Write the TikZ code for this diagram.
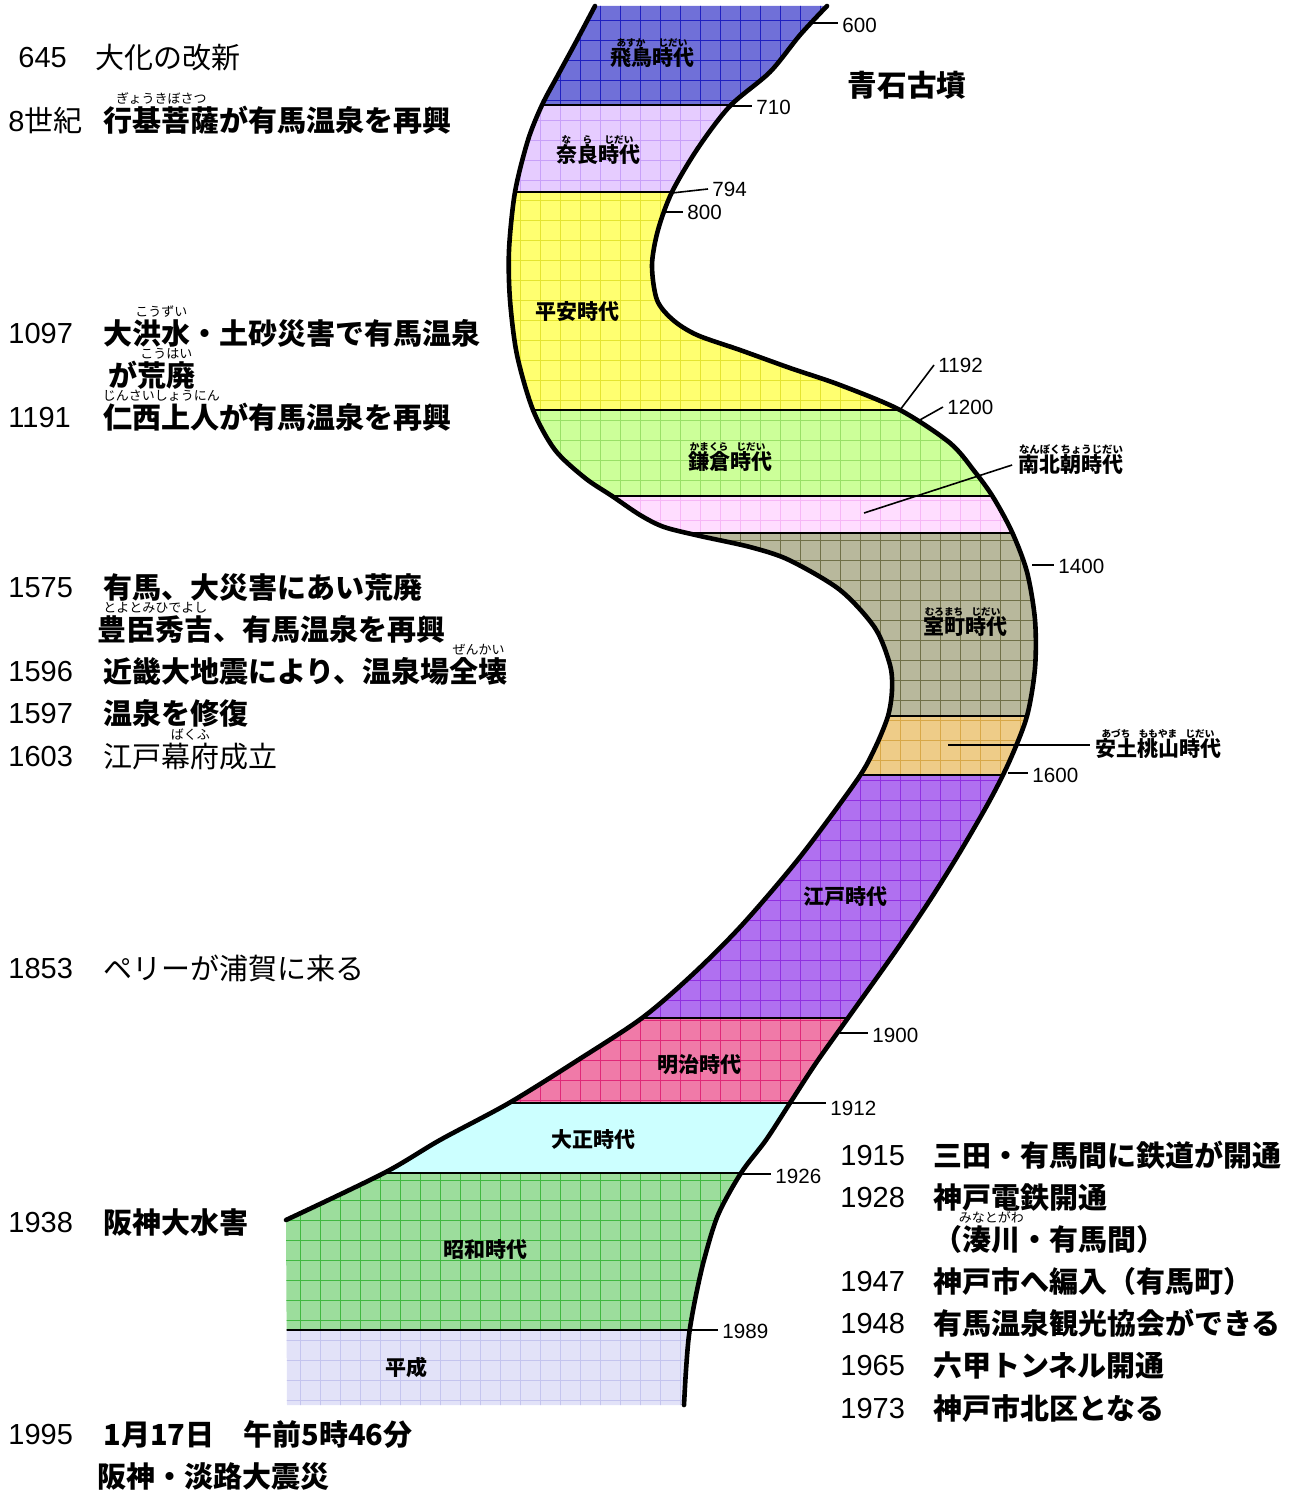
\documentclass[tikz,border=0pt]{standalone}
\usepackage{fontspec}
\newfontfamily\jp{Noto Sans CJK JP}
\newfontfamily\ar{Liberation Sans}
\usetikzlibrary{calc}
\newsavebox\rbbox
\newcommand\rbL[2]{\leavevmode\sbox\rbbox{#1}\rlap{\raisebox{0.95em}[0pt][0pt]{\makebox[\wd\rbbox][c]{\fontsize{6.5pt}{6.5pt}\selectfont\mdseries #2}}}\usebox\rbbox}
\newcommand\rbS[2]{\leavevmode\sbox\rbbox{#1}\rlap{\raisebox{0.92em}[0pt][0pt]{\makebox[\wd\rbbox][c]{\fontsize{4.8pt}{4.8pt}\selectfont #2}}}\usebox\rbbox}
\definecolor{asukaF}{HTML}{7070D8}\definecolor{asukaG}{HTML}{2020C0}
\definecolor{naraF}{HTML}{E6CCFF}\definecolor{naraG}{HTML}{C8A0F8}
\definecolor{heianF}{HTML}{FFFF70}\definecolor{heianG}{HTML}{E4E430}
\definecolor{kamaF}{HTML}{CCFF99}\definecolor{kamaG}{HTML}{99E066}
\definecolor{nanF}{HTML}{FFDDFF}\definecolor{nanG}{HTML}{F6B6F6}
\definecolor{muroF}{HTML}{B8B89C}\definecolor{muroG}{HTML}{707048}
\definecolor{azuF}{HTML}{EECC88}\definecolor{azuG}{HTML}{D8A848}
\definecolor{edoF}{HTML}{B070F0}\definecolor{edoG}{HTML}{9030E0}
\definecolor{meiF}{HTML}{F07AA8}\definecolor{meiG}{HTML}{E02878}
\definecolor{taiF}{HTML}{CCFFFF}
\definecolor{showaF}{HTML}{9CDD9C}\definecolor{showaG}{HTML}{40B840}
\definecolor{heiseiF}{HTML}{E2E2F8}\definecolor{heiseiG}{HTML}{C4C4EE}
\newcommand\band[4]{\fill[#3] (250,#2) rectangle (1100,#1); \draw[#4, gridl, step=10pt] (250,#2) grid (1100,#1);}
\tikzset{
 yr/.style={font=\ar\fontsize{14.5pt}{14.5pt}\selectfont, anchor=west, inner sep=0pt, text height=10.4pt, text depth=0pt},
 evb/.style={font=\jp\bfseries\fontsize{14.5pt}{14.5pt}\selectfont, anchor=west, inner sep=0pt, text height=12.8pt, text depth=1.7pt},
 evr/.style={font=\jp\fontsize{14.5pt}{14.5pt}\selectfont, anchor=west, inner sep=0pt, text height=12.8pt, text depth=1.7pt},
 era/.style={font=\jp\bfseries\fontsize{10.5pt}{10.5pt}\selectfont, inner sep=0pt, text height=9.2pt, text depth=1.3pt},
 tk/.style={font=\ar\fontsize{10.3pt}{10.3pt}\selectfont, anchor=west, inner xsep=2pt, inner ysep=0pt, text height=7.4pt, text depth=0pt},
 tkline/.style={line width=0.8pt},
 outer/.style={line width=2.3pt, line cap=round, line join=round},
 sepline/.style={line width=1pt},
 gridl/.style={line width=0.45pt},
}
\begin{document}
\begin{tikzpicture}[x=0.5pt,y=-0.5pt]
\useasboundingbox (0,0) rectangle (1301,1492);
\fill[white] (0,0) rectangle (1301,1492);
\begin{scope}
\clip plot[smooth,tension=0.5] coordinates {(827,6) (800,35) (770,72) (730,106) (698,148) (672,192) (658,230) (652,265) (657,300) (673,320) (697,335) (740,350) (790,368) (840,385) (900,410) (950,443) (975,472) (993,497) (1012,532) (1027,572) (1035,620) (1035,668) (1027,716) (1010,760) (990,800) (960,852) (930,900) (895,952) (848,1018) (816,1063) (790,1103) (766,1140) (741,1173) (718,1215) (704,1260) (695,1300) (689,1335) (686,1370) (684,1405)}
 -- (287,1405)
 -- plot[smooth,tension=0.5] coordinates {(286,1220) (384,1173) (440,1140) (509,1103) (578,1060) (642,1018) (692,975) (742,925) (800,857) (857,780) (875,748) (888,716) (892,690) (890,665) (875,628) (840,590) (789,560) (750,547) (700,536) (664,527) (640,515) (612,496) (585,478) (555,450) (533,410) (517,355) (510,300) (509,250) (515,192) (528,140) (542,105) (558,75) (577,40) (595,6)}
 -- cycle;
\band{0}{105}{asukaF}{asukaG}
\band{105}{192}{naraF}{naraG}
\band{192}{410}{heianF}{heianG}
\band{410}{496}{kamaF}{kamaG}
\band{496}{533}{nanF}{nanG}
\band{533}{716}{muroF}{muroG}
\band{716}{775}{azuF}{azuG}
\band{775}{1018}{edoF}{edoG}
\band{1018}{1103}{meiF}{meiG}
\fill[taiF] (250,1173) rectangle (1100,1103);
\band{1173}{1330}{showaF}{showaG}
\band{1330}{1420}{heiseiF}{heiseiG}
\foreach \yy in {105,192,410,496,533,716,775,1018,1103,1173,1330} \draw[sepline] (250,\yy) -- (1100,\yy);
\end{scope}
\draw[outer] plot[smooth,tension=0.5] coordinates {(827,6) (800,35) (770,72) (730,106) (698,148) (672,192) (658,230) (652,265) (657,300) (673,320) (697,335) (740,350) (790,368) (840,385) (900,410) (950,443) (975,472) (993,497) (1012,532) (1027,572) (1035,620) (1035,668) (1027,716) (1010,760) (990,800) (960,852) (930,900) (895,952) (848,1018) (816,1063) (790,1103) (766,1140) (741,1173) (718,1215) (704,1260) (695,1300) (689,1335) (686,1370) (684,1405)};
\draw[outer] plot[smooth,tension=0.5] coordinates {(595,6) (577,40) (558,75) (542,105) (528,140) (515,192) (509,250) (510,300) (517,355) (533,410) (555,450) (585,478) (612,496) (640,515) (664,527) (700,536) (750,547) (789,560) (840,590) (875,628) (890,665) (892,690) (888,716) (875,748) (857,780) (800,857) (742,925) (692,975) (642,1018) (578,1060) (509,1103) (440,1140) (384,1173) (286,1220)};
% ticks
\coordinate (b600) at (813,23); \node[tk] (n600) at (838,25) {600}; \draw[tkline] (b600) -- (b600 -| n600.west);
\coordinate (b710) at (730,106); \node[tk] (n710) at (752,107) {710}; \draw[tkline] (b710) -- (b710 -| n710.west);
\coordinate (b794) at (672,193); \node[tk] (n794) at (708,189) {794}; \draw[tkline] (b794) -- (n794.west);
\coordinate (b800) at (663,212); \node[tk] (n800) at (683,212) {800}; \draw[tkline] (b800) -- (b800 -| n800.west);
\coordinate (b1192) at (900,410); \node[tk] (n1192) at (934,365) {1192}; \draw[tkline] (b1192) -- (n1192.west);
\coordinate (b1200) at (918,421); \node[tk] (n1200) at (943,407) {1200}; \draw[tkline] (b1200) -- (n1200.west);
\coordinate (b1400) at (1032,565); \node[tk] (n1400) at (1054,566) {1400}; \draw[tkline] (b1400) -- (b1400 -| n1400.west);
\coordinate (b1600) at (1008,773); \node[tk] (n1600) at (1028,775) {1600}; \draw[tkline] (b1600) -- (b1600 -| n1600.west);
\coordinate (b1900) at (840,1033); \node[tk] (n1900) at (868,1035) {1900}; \draw[tkline] (b1900) -- (b1900 -| n1900.west);
\coordinate (b1912) at (790,1103); \node[tk] (n1912) at (826,1108) {1912}; \draw[tkline] (b1912) -- (b1912 -| n1912.west);
\coordinate (b1926) at (741,1174); \node[tk] (n1926) at (771,1176) {1926}; \draw[tkline] (b1926) -- (b1926 -| n1926.west);
\coordinate (b1989) at (689,1330); \node[tk] (n1989) at (718,1331) {1989}; \draw[tkline] (b1989) -- (b1989 -| n1989.west);
% era labels
\node[era] (asuka) at (652,58) {\rbS{飛鳥}{あすか}\rbS{時代}{じだい}};
\node[era] (nara) at (598,155) {\rbS{奈}{な}\rbS{良}{ら}\rbS{時代}{じだい}};
\node[era] (heian) at (577,312) {平安時代};
\node[era] (kamakura) at (730,462) {\rbS{鎌倉}{かまくら}\rbS{時代}{じだい}};
\node[era, inner xsep=3pt] (nanboku) at (1071,465) {\rbS{南北朝時代}{\fontsize{5.2pt}{5.2pt}\selectfont なんぼくちょうじだい}};
\node[era] (muromachi) at (965,627) {\rbS{室町}{むろまち}\rbS{時代}{じだい}};
\node[era, inner xsep=2.5pt] (azuchi) at (1158,749) {\rbS{安土}{あづち}\rbS{桃山}{ももやま}\rbS{時代}{じだい}};
\node[era] (edo) at (845,897) {江戸時代};
\node[era] (meiji) at (699,1065) {明治時代};
\node[era] (taisho) at (593,1140) {大正時代};
\node[era] (showa) at (485,1250) {昭和時代};
\node[era] (heisei) at (406,1368) {平成};
\coordinate (nbp) at (864,513); \draw[tkline] (nbp) -- (nanboku.west);
\coordinate (azp) at (948,745); \draw[tkline] (azp) -- (azp -| azuchi.west);
\node[font=\jp\bfseries\fontsize{14.8pt}{14.8pt}\selectfont, inner sep=0pt] (aoishi) at (907,85) {青石古墳};
% left events
\node[yr] (y645) at (18,57) {645};
\node[evr] (e645) at (95,57) {大化の改新};
\node[evr] (y8c) at (8,120) {{\ar 8}世紀};
\node[evb] (e8c) at (103,120) {\rbL{行基菩薩}{ぎょうきぼさつ}が有馬温泉を再興};
\node[yr] (y1097) at (8,333) {1097};
\node[evb] (e1097) at (103,333) {大\rbL{洪水}{こうずい}・土砂災害で有馬温泉};
\node[evb] (e1097b) at (108,375) {が\rbL{荒廃}{こうはい}};
\node[yr] (y1191) at (8,417) {1191};
\node[evb] (e1191) at (103,417) {\rbL{仁西上人}{じんさいしょうにん}が有馬温泉を再興};
\node[yr] (y1575) at (8,587) {1575};
\node[evb] (e1575) at (103,587) {有馬、大災害にあい荒廃};
\node[evb] (e1575b) at (97,629) {\rbL{豊臣秀吉}{とよとみひでよし}、有馬温泉を再興};
\node[yr] (y1596) at (8,671) {1596};
\node[evb] (e1596) at (103,671) {近畿大地震により、温泉場\rbL{全壊}{ぜんかい}};
\node[yr] (y1597) at (8,713) {1597};
\node[evb] (e1597) at (103,713) {温泉を修復};
\node[yr] (y1603) at (8,756) {1603};
\node[evr] (e1603) at (103,756) {江戸\rbL{幕府}{ばくふ}成立};
\node[yr] (y1853) at (8,968) {1853};
\node[evr] (e1853) at (103,968) {ペリーが浦賀に来る};
\node[yr] (y1938) at (8,1222) {1938};
\node[evb] (e1938) at (103,1222) {阪神大水害};
\node[yr] (y1995) at (8,1434) {1995};
\node[evb] (e1995) at (103,1434) {1月17日　午前5時46分};
\node[evb] (e1995b) at (97,1476) {阪神・淡路大震災};
% right events
\node[yr] (y1915) at (840,1155) {1915};
\node[evb] (e1915) at (933,1155) {三田・有馬間に鉄道が開通};
\node[yr] (y1928) at (840,1197) {1928};
\node[evb] (e1928) at (933,1197) {神戸電鉄開通};
\node[evb] (e1928b) at (933,1239) {（\rbL{湊川}{みなとがわ}・有馬間）};
\node[yr] (y1947) at (840,1281) {1947};
\node[evb] (e1947) at (933,1281) {神戸市へ編入（有馬町）};
\node[yr] (y1948) at (840,1323) {1948};
\node[evb] (e1948) at (933,1323) {有馬温泉観光協会ができる};
\node[yr] (y1965) at (840,1365) {1965};
\node[evb] (e1965) at (933,1365) {六甲トンネル開通};
\node[yr] (y1973) at (840,1408) {1973};
\node[evb] (e1973) at (933,1408) {神戸市北区となる};
\end{tikzpicture}
\end{document}
